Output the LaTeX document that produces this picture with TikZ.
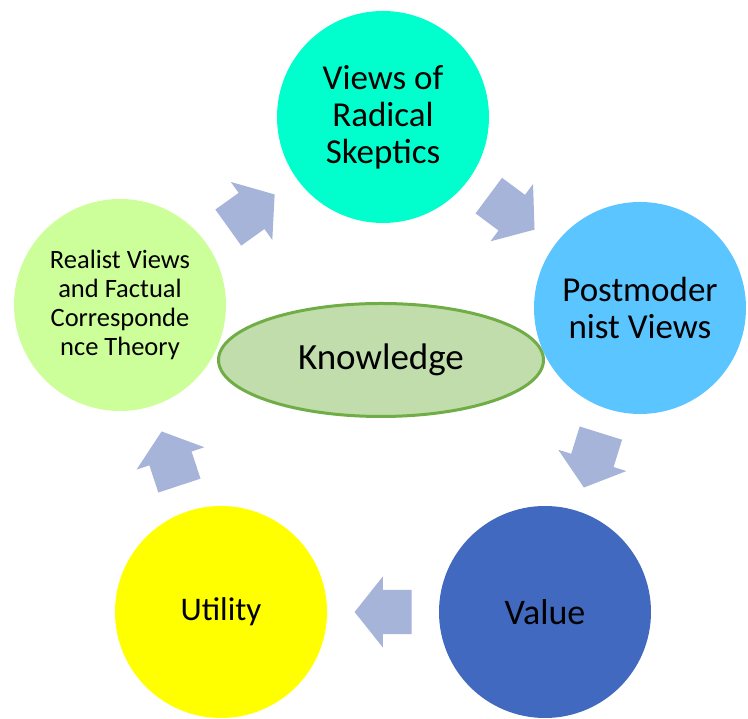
\documentclass[tikz,border=0pt]{standalone}
\usepackage{fontspec}
\setmainfont{Carlito}
\usepackage{xcolor}
\usepackage{tikz}
\usetikzlibrary{shapes.geometric,shapes.arrows}

\definecolor{skepticteal}{HTML}{00FFCC}
\definecolor{postblue}{HTML}{5BC5FF}
\definecolor{valueblue}{HTML}{4169BF}
\definecolor{utilyellow}{HTML}{FFFF00}
\definecolor{realgreen}{HTML}{CCFF99}
\definecolor{knowfill}{HTML}{C0DDAB}
\definecolor{knowline}{HTML}{70AD47}
\definecolor{flowblue}{HTML}{A7B4DA}

\begin{document}
\begin{tikzpicture}[
  x=1pt, y=1pt,
  bubble/.style={circle, minimum size=212pt, inner sep=0pt, align=center, font=\fontsize{35}{37}\selectfont},
  flow/.style={single arrow, draw=none, fill=flowblue, inner xsep=0pt, inner ysep=22pt, minimum height=57pt,
    single arrow head extend=13.5pt, single arrow tip angle=103, sloped, allow upside down, pos=0.42}
]
\useasboundingbox (0,0) rectangle (748,719);
\node[bubble, fill=skepticteal] (skeptic) at (383,602) {Views of\\Radical\\Skeptics};
\node[bubble, fill=postblue] (postmod) at (640,411) {Postmoder\\nist Views};
\node[bubble, fill=valueblue, font=\fontsize{36}{38}\selectfont] (value) at (545,107) {Value};
\node[bubble, fill=utilyellow, font=\fontsize{33}{36}\selectfont] (utility) at (221,107) {Utility};
\node[bubble, fill=realgreen, font=\fontsize{26.5}{29}\selectfont] (realist) at (120,414) {Realist Views\\and Factual\\Corresponde\\nce Theory};

\node[ellipse, draw=knowline, line width=3pt, fill=knowfill, minimum width=325pt, minimum height=113pt,
  font=\fontsize{37}{40}\selectfont] (know) at (381,359) {Knowledge};

% block arrows round the cycle
\path (realist) -- node[flow] {} (skeptic);
\path (skeptic) -- node[flow] {} (postmod);
\path (postmod) -- node[flow] {} (value);
\path (value) -- node[flow] {} (utility);
\path (utility) -- node[flow] {} (realist);
\end{tikzpicture}
\end{document}
